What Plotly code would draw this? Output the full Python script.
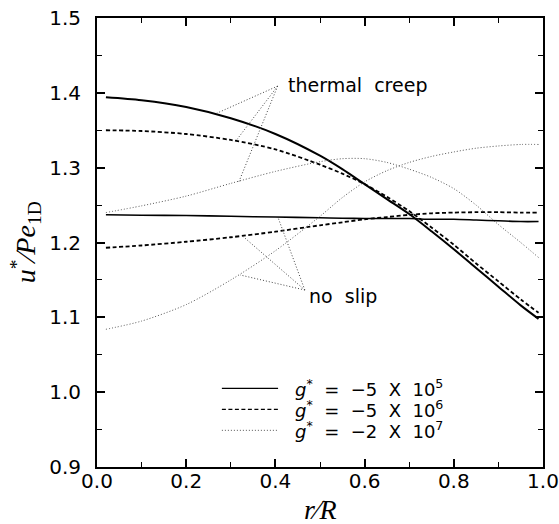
import plotly.graph_objects as go

# r/R positions
r = [0.02, 0.1, 0.2, 0.3, 0.4, 0.5, 0.55, 0.6, 0.65, 0.7, 0.75, 0.8, 0.85, 0.9, 0.95, 0.99]

# thermal creep curves
tc_solid  = [1.394, 1.390, 1.381, 1.366, 1.345, 1.316, 1.298, 1.278, 1.258, 1.238, 1.215, 1.191, 1.166, 1.141, 1.116, 1.098]
tc_dashed = [1.350, 1.349, 1.345, 1.337, 1.3245, 1.304, 1.292, 1.278, 1.261, 1.242, 1.220, 1.197, 1.172, 1.148, 1.124, 1.106]
tc_dotted = [1.240, 1.249, 1.262, 1.279, 1.295, 1.308, 1.312, 1.312, 1.307, 1.298, 1.287, 1.272, 1.250, 1.224, 1.200, 1.180]

# no slip curves
ns_solid  = [1.237, 1.2365, 1.236, 1.235, 1.234, 1.233, 1.2325, 1.232, 1.232, 1.232, 1.231, 1.231, 1.230, 1.229, 1.228, 1.228]
ns_dashed = [1.193, 1.196, 1.201, 1.207, 1.2145, 1.223, 1.227, 1.231, 1.234, 1.237, 1.239, 1.240, 1.2405, 1.2405, 1.240, 1.240]
ns_dotted = [1.084, 1.095, 1.117, 1.150, 1.189, 1.235, 1.260, 1.281, 1.296, 1.307, 1.315, 1.321, 1.326, 1.329, 1.331, 1.331]

legend_labels = [
    "<i>g</i><sup>*</sup>\u00a0\u00a0=\u00a0\u00a0\u22125\u00a0\u00a0X\u00a0\u00a010<sup>5</sup>",
    "<i>g</i><sup>*</sup>\u00a0\u00a0=\u00a0\u00a0\u22125\u00a0\u00a0X\u00a0\u00a010<sup>6</sup>",
    "<i>g</i><sup>*</sup>\u00a0\u00a0=\u00a0\u00a0\u22122\u00a0\u00a0X\u00a0\u00a010<sup>7</sup>",
]

# annotation pointer geometry (label apex, then curve targets)
tc_apex = (0.405, 1.409)
tc_targets = [(0.268, 1.3726), (0.313, 1.337), (0.318, 1.281)]
ns_apex = (0.466, 1.1365)
ns_targets = [(0.4066, 1.2323), (0.328, 1.2078), (0.321, 1.1566)]

styles = [
    dict(color="black", width=2.0, dash="solid"),
    dict(color="black", width=1.8, dash="4px,2.5px"),
    dict(color="#555555", width=1.0, dash="1px,2px"),
]

fig = go.Figure()
for ys, st in zip([tc_solid, tc_dashed, tc_dotted], styles):
    fig.add_trace(go.Scatter(x=r, y=ys, mode="lines", line=dict(shape="spline", smoothing=0.8, **st),
                             showlegend=False, hoverinfo="skip"))
ns_styles = [dict(styles[0], width=1.6), styles[1], styles[2]]
for ys, st in zip([ns_solid, ns_dashed, ns_dotted], ns_styles):
    fig.add_trace(go.Scatter(x=r, y=ys, mode="lines", line=dict(shape="spline", smoothing=0.8, **st),
                             showlegend=False, hoverinfo="skip"))

shapes = []
for apex, targets in [(tc_apex, tc_targets), (ns_apex, ns_targets)]:
    for tx, ty in targets:
        shapes.append(dict(type="line", xref="x", yref="y", x0=apex[0], y0=apex[1], x1=tx, y1=ty,
                           line=dict(color="#444444", width=1, dash="1px,2px")))

# custom legend
leg_x0, leg_x1, leg_text_x = 0.28, 0.406, 0.44
leg_y = [1.005, 0.977, 0.949]
annotations = []
for yy, st, lab in zip(leg_y, styles, legend_labels):
    shapes.append(dict(type="line", xref="x", yref="y", x0=leg_x0, x1=leg_x1, y0=yy, y1=yy,
                       line=dict(color=st["color"], width=1.3 if st["dash"] != "1px,2px" else 1.0,
                                 dash=st["dash"])))
    annotations.append(dict(x=leg_text_x, y=yy, xref="x", yref="y", text=lab, showarrow=False,
                            xanchor="left", yanchor="middle",
                            font=dict(family="DejaVu Sans", size=18, color="black")))

annotations.append(dict(x=0.424, y=1.411, xref="x", yref="y", text="thermal\u00a0\u00a0creep",
                        showarrow=False, xanchor="left", yanchor="middle",
                        font=dict(family="DejaVu Sans", size=19, color="black")))
annotations.append(dict(x=0.47, y=1.128, xref="x", yref="y", text="no\u00a0\u00a0slip",
                        showarrow=False, xanchor="left", yanchor="middle",
                        font=dict(family="DejaVu Sans", size=19, color="black")))

# axis titles as paper-positioned annotations
annotations.append(dict(x=0.5, y=-0.095, xref="paper", yref="paper", text="<i>r</i>\u2215<i>R</i>",
                        showarrow=False, xanchor="center", yanchor="middle",
                        font=dict(family="Liberation Serif", size=28, color="black")))
annotations.append(dict(x=-0.16, y=0.5, xref="paper", yref="paper",
                        text="<i>u</i><sup>*</sup>\u2215<i>Pe</i><sub>1D</sub>",
                        showarrow=False, xanchor="center", yanchor="middle", textangle=-90,
                        font=dict(family="Liberation Serif", size=28, color="black")))

axis_common = dict(showline=True, linecolor="black", linewidth=2, mirror="allticks",
                   ticks="inside", ticklen=8, tickwidth=1.5, tickcolor="black",
                   showgrid=False, zeroline=False, automargin=False,
                   tickfont=dict(family="DejaVu Sans", size=20, color="black"))

fig.update_layout(
    width=559, height=524,
    margin=dict(l=97, r=16, t=18, b=57),
    paper_bgcolor="white", plot_bgcolor="white",
    shapes=shapes, annotations=annotations,
    xaxis=dict(range=[0, 1.0], dtick=0.2, tick0=0, tickformat=".1f",
               minor=dict(dtick=0.1, ticks="inside", ticklen=5, tickcolor="black", tickwidth=1.2),
               ticklabelstandoff=-5,
               **axis_common),
    yaxis=dict(range=[0.9, 1.5], dtick=0.1, tick0=0.9, tickformat=".1f",
               minor=dict(dtick=0.05, ticks="inside", ticklen=5, tickcolor="black", tickwidth=1.2),
               ticklabelstandoff=10,
               **axis_common),
)

fig.write_html("out.html")
